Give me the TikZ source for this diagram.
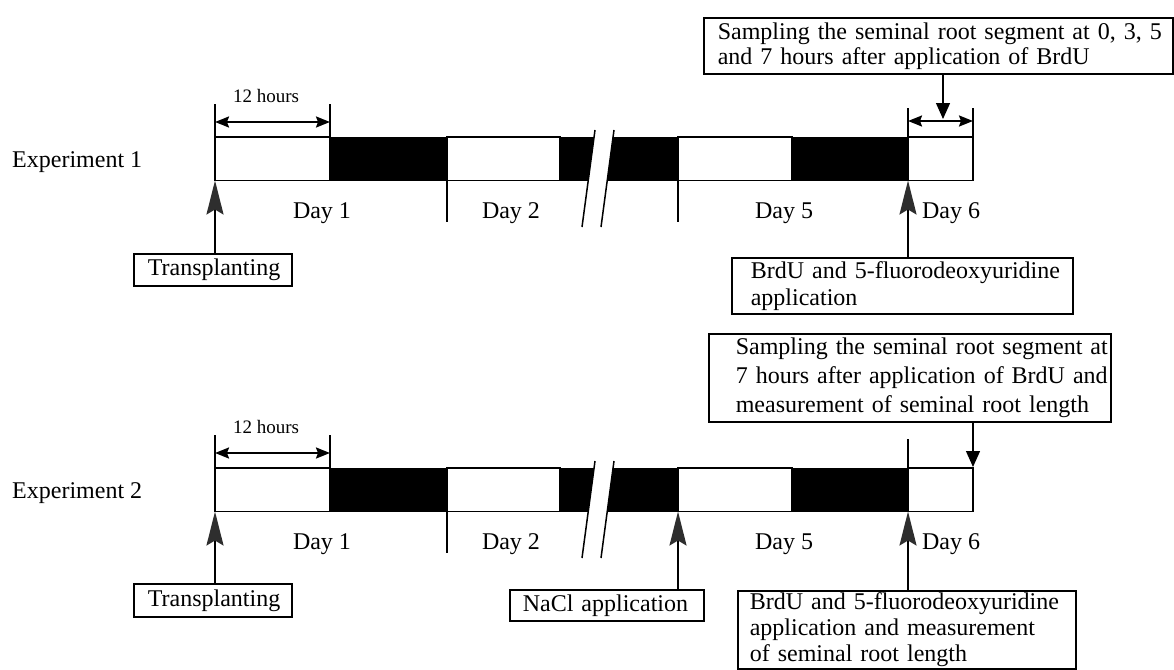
\documentclass[tikz,border=0pt]{standalone}
\usepackage{fontspec}
\setmainfont{Liberation Serif}
\usetikzlibrary{arrows.meta}
\begin{document}
\begin{tikzpicture}[x=1pt,y=-1pt,
  txt/.style={font=\fontsize{24}{27}\selectfont, inner sep=0pt, anchor=base},
  small/.style={font=\fontsize{19}{21}\selectfont, inner sep=0pt, anchor=base},
  box/.style={draw, line width=1.6pt, align=left, anchor=north west, inner ysep=0pt},
  wseg/.style={draw, line width=1.6pt, fill=white},
  bseg/.style={fill=black},
  tickline/.style={line width=1.5pt},
  uparrow/.style={line width=2pt, -{Stealth[length=34pt,width=17pt,inset=5pt,color=black!82]}},
  downarrow/.style={line width=1.3pt, -{Triangle[length=16pt,width=14pt]}},
  dimarrow/.style={line width=2pt, {Stealth[length=14pt,width=11pt,inset=2pt]}-{Stealth[length=14pt,width=11pt,inset=2pt]}},
]
\useasboundingbox (0,0) rectangle (1174,669);

% ---------- bars ----------
\foreach \e/\dy in {1/0,2/331}{
  \begin{scope}[shift={(0,\dy)}]
    \fill[bseg] (330,137) rectangle (447,180.5);
    \fill[bseg] (560,137) rectangle (678,180.5);
    \fill[bseg] (792,137) rectangle (908,180.5);
    \draw[wseg] (215,137) rectangle (330,180.5);
    \draw[wseg] (447,137) rectangle (560,180.5);
    \draw[wseg] (678,137) rectangle (792,180.5);
    \draw[wseg] (908,137) rectangle (973,180.5);
    % break
    \coordinate (br\e a) at (595,130); \coordinate (br\e b) at (582,227);
    \coordinate (br\e c) at (614,130); \coordinate (br\e d) at (601,227);
    \fill[white] (br\e a) -- (br\e c) -- (br\e d) -- (br\e b) -- cycle;
    \draw[tickline] (br\e a) -- (br\e b);
    \draw[tickline] (br\e c) -- (br\e d);
    % 12 hours
    \coordinate (h\e a) at (215,104); \coordinate (h\e b) at (215,137);
    \coordinate (h\e c) at (330,104); \coordinate (h\e d) at (330,137);
    \draw[tickline] (h\e a) -- (h\e b);
    \draw[tickline] (h\e c) -- (h\e d);
    \coordinate (h\e l) at (215,122); \coordinate (h\e r) at (330,122);
    \draw[dimarrow] (h\e l) -- (h\e r);
    \node[small] (hl\e) at (266,102) {12 hours};
    % day 2 tick
    \coordinate (d\e a) at (447,180.5); \coordinate (d\e b) at (447,222);
    \draw[tickline] (d\e a) -- (d\e b);
    % day labels
    \node[txt] (day1\e) at (322,218) {Day 1};
    \node[txt] (day2\e) at (511,218) {Day 2};
    \node[txt] (day5\e) at (784,218) {Day 5};
    \node[txt] (day6\e) at (951,218) {Day 6};
    % bar bottom points
    \coordinate (p\e start) at (215,180.5);
    \coordinate (p\e five) at (678,180.5);
    \coordinate (p\e six) at (908,180.5);
  \end{scope}
}

% ---------- experiment labels ----------
\node[txt, anchor=base west] (ex1) at (12,167) {Experiment 1};
\node[txt, anchor=base west] (ex2) at (12,498) {Experiment 2};

% ---------- experiment 1 ----------
\coordinate (e1t5a) at (678,180.5); \coordinate (e1t5b) at (678,222);
\draw[tickline] (e1t5a) -- (e1t5b);
\coordinate (s6a) at (908,108); \coordinate (s6b) at (908,137);
\coordinate (s6c) at (973,108); \coordinate (s6d) at (973,137);
\draw[tickline] (s6a) -- (s6b);
\draw[tickline] (s6c) -- (s6d);
\coordinate (s6l) at (908,121); \coordinate (s6r) at (973,121);
\draw[dimarrow] (s6l) -- (s6r);
\coordinate (s6tip) at (943,119);

\node[box, font=\fontsize{24}{25}\selectfont, inner xsep=14pt, text width=441pt, minimum height=56pt] (s1) at (703,17)
  {\mbox{Sampling the seminal root segment at 0, 3, 5}\\\mbox{and 7 hours after application of BrdU}};
\draw[downarrow] (s1.south -| s6tip) -- (s6tip);

\node[box, font=\fontsize{24}{27}\selectfont, inner xsep=19pt, text width=303pt, minimum height=56pt] (b1) at (731,257)
  {\mbox{BrdU and 5-fluorodeoxyuridine}\\\mbox{application}};
\draw[uparrow] (b1.north -| p1six) -- (p1six);

\node[box, font=\fontsize{24}{27}\selectfont, inner xsep=14pt, text width=130pt, minimum height=32pt] (t1) at (133,253)
  {\mbox{Transplanting}};
\draw[uparrow] (t1.north -| p1start) -- (p1start);

% ---------- experiment 2 ----------
\coordinate (e2t6a) at (908,439); \coordinate (e2t6b) at (908,468);
\draw[tickline] (e2t6a) -- (e2t6b);
\coordinate (s2tip) at (973,467);

\node[box, font=\fontsize{24}{29}\selectfont, inner xsep=27pt, text width=348pt, minimum height=88pt] (s2) at (708,333)
  {\mbox{Sampling the seminal root segment at}\\\mbox{7 hours after application of BrdU and}\\\mbox{measurement of seminal root length}};
\draw[downarrow] (s2.south -| s2tip) -- (s2tip);

\node[box, font=\fontsize{24}{26}\selectfont, inner xsep=12pt, text width=314pt, minimum height=78pt] (b2) at (737,590)
  {\mbox{BrdU and 5-fluorodeoxyuridine}\\\mbox{application and measurement}\\\mbox{of seminal root length}};
\draw[uparrow] (b2.north -| p2six) -- (p2six);

\node[box, font=\fontsize{24}{27}\selectfont, inner xsep=13pt, text width=168pt, minimum height=31pt] (n2) at (509,589)
  {\mbox{NaCl application}};
\draw[uparrow] (n2.north -| p2five) -- (p2five);

\node[box, font=\fontsize{24}{27}\selectfont, inner xsep=14pt, text width=130pt, minimum height=33pt] (t2) at (133,583)
  {\mbox{Transplanting}};
\draw[uparrow] (t2.north -| p2start) -- (p2start);

\end{tikzpicture}
\end{document}
